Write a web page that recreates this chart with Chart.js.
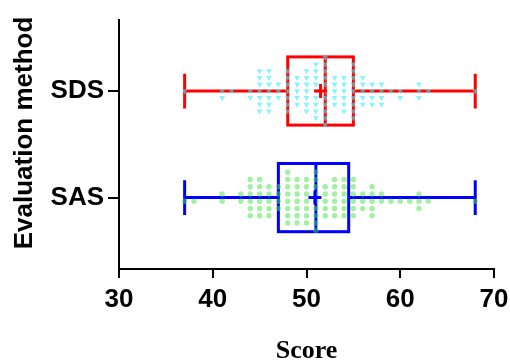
<!DOCTYPE html>
<html>
<head>
<meta charset="utf-8">
<script src="https://cdn.jsdelivr.net/npm/chart.js@4/dist/chart.umd.min.js"></script>
<style>
html, body { margin: 0; padding: 0; background: #fff; }
#wrap { width: 510px; height: 360px; }
</style>
</head>
<body>
<div id="wrap"><canvas id="chart"></canvas></div>
<script>
// categories on the y axis, bottom to top
const categories = ["SAS", "SDS"];
const xTicks = [30, 40, 50, 60, 70];

// SDS: scores and number of subjects with that score (down triangles)
const sdsScores = [37, 41, 42, 44, 45, 46, 47, 48, 49, 50, 51, 52, 53, 54, 55, 56, 57, 58, 59, 60, 62, 63, 68];
const sdsCounts = [1, 2, 1, 2, 7, 7, 3, 7, 5, 7, 9, 11, 5, 6, 9, 5, 4, 4, 1, 2, 3, 1, 1];

// SAS: scores and counts (circles)
const sasScores = [37, 38, 41, 43, 44, 45, 46, 47, 48, 49, 50, 51, 52, 53, 54, 55, 56, 57, 58, 59, 60, 61, 62, 63, 68];
const sasCounts = [1, 1, 2, 2, 6, 6, 5, 4, 8, 7, 7, 9, 5, 6, 6, 6, 3, 5, 2, 1, 1, 1, 3, 1, 1];

// box summaries: min, Q1, median, Q3, max
const sasBox = [37, 47, 51, 54.5, 68];
const sdsBox = [37, 48, 52, 55, 68];
const boxMeans = [50.9, 51.5];

// spread points with the same score into rows (simple beeswarm)
function swarm(scores, counts, yPos, step, half) {
    const pts = [];
    scores.forEach((s, i) => {
        for (let k = 0; k < counts[i]; k++) {
            let row;
            if (half) row = (k % 2 === 0 ? 1 : -1) * (Math.floor(k / 2) + 0.5);
            else row = k === 0 ? 0 : (k % 2 === 1 ? 1 : -1) * Math.ceil(k / 2);
            pts.push({ x: s, y: yPos - row * step });
        }
    });
    return pts;
}

const boxes = [
    { y: 1, stats: sasBox, mean: boxMeans[0], color: "#0000ff" },
    { y: 2, stats: sdsBox, mean: boxMeans[1], color: "#ff0000" }
];

const boxPlugin = {
    id: "boxes",
    beforeDatasetsDraw(chart) {
        const { ctx, scales: { x, y } } = chart;
        boxes.forEach(b => {
            const [mn, q1, med, q3, mx] = b.stats.map(v => x.getPixelForValue(v));
            const yc = y.getPixelForValue(b.y);
            const yTop = y.getPixelForValue(b.y + 0.32);
            const yBot = y.getPixelForValue(b.y - 0.32);
            const cTop = y.getPixelForValue(b.y + 0.163);
            const cBot = y.getPixelForValue(b.y - 0.163);
            ctx.save();
            ctx.strokeStyle = b.color;
            ctx.lineWidth = 3;
            ctx.beginPath();
            // whiskers
            ctx.moveTo(mn, yc); ctx.lineTo(q1, yc);
            ctx.moveTo(q3, yc); ctx.lineTo(mx, yc);
            // caps
            ctx.moveTo(mn, cTop); ctx.lineTo(mn, cBot);
            ctx.moveTo(mx, cTop); ctx.lineTo(mx, cBot);
            // median
            ctx.moveTo(med, yTop); ctx.lineTo(med, yBot);
            ctx.stroke();
            ctx.strokeRect(q1, yTop, q3 - q1, yBot - yTop);
            ctx.restore();
        });
    },
    afterDatasetsDraw(chart) {
        const { ctx, scales: { x, y } } = chart;
        boxes.forEach(b => {
            const mx = x.getPixelForValue(b.mean);
            const my = y.getPixelForValue(b.y);
            ctx.save();
            ctx.strokeStyle = b.color;
            ctx.lineWidth = 3;
            ctx.beginPath();
            ctx.moveTo(mx - 6.5, my); ctx.lineTo(mx + 6.5, my);
            ctx.moveTo(mx, my - 7); ctx.lineTo(mx, my + 7);
            ctx.stroke();
            ctx.restore();
        });
    },
    afterDraw(chart) {
        // y axis title
        const ctx = chart.ctx;
        ctx.save();
        ctx.translate(25, 133);
        ctx.rotate(-Math.PI / 2);
        ctx.font = "bold 26px 'Liberation Sans'";
        ctx.fillStyle = "#000";
        ctx.textAlign = "center";
        ctx.textBaseline = "middle";
        ctx.fillText("Evaluation method", 0, 0);
        ctx.restore();
    }
};

const tickFont = { family: "Liberation Sans", size: 26, weight: "bold" };

new Chart(document.getElementById("chart"), {
    type: "scatter",
    data: {
        datasets: [
            {
                label: "SAS",
                data: swarm(sasScores, sasCounts, 1, 0.068, true),
                pointStyle: "circle",
                pointRadius: 2.7,
                pointBorderWidth: 0,
                backgroundColor: "rgba(70, 225, 70, 0.5)",
                borderColor: "rgba(0,0,0,0)"
            },
            {
                label: "SDS",
                data: swarm(sdsScores, sdsCounts, 2, 0.063, false),
                pointStyle: "triangle",
                rotation: 180,
                pointRadius: 3.4,
                pointBorderWidth: 0,
                backgroundColor: "rgba(60, 235, 250, 0.6)",
                borderColor: "rgba(0,0,0,0)"
            }
        ]
    },
    options: {
        responsive: true,
        maintainAspectRatio: false,
        animation: false,
        layout: { padding: { top: 18, right: 16, left: 0, bottom: 0 } },
        plugins: { legend: { display: false }, tooltip: { enabled: false } },
        scales: {
            x: {
                type: "linear",
                min: 30,
                max: 70,
                afterBuildTicks: s => { s.ticks = xTicks.map(v => ({ value: v })); },
                afterFit: s => { s.height = 91; s.paddingRight = 0; s.paddingLeft = 0; },
                grid: { drawOnChartArea: false, drawTicks: true, tickLength: 9, color: "#000", lineWidth: 2 },
                border: { display: true, color: "#000", width: 2 },
                ticks: { color: "#000", font: tickFont, padding: 6, maxRotation: 0 },
                title: {
                    display: true,
                    text: "Score",
                    color: "#000",
                    font: { family: "Liberation Serif", size: 26, weight: "bold", lineHeight: 0.8 },
                    padding: { top: 0, bottom: -2 }
                }
            },
            y: {
                type: "linear",
                min: 0.33,
                max: 2.67,
                afterBuildTicks: s => { s.ticks = categories.map((c, i) => ({ value: i + 1 })); },
                afterFit: s => { s.width = 119; },
                grid: { drawOnChartArea: false, drawTicks: true, tickLength: 11, color: "#000", lineWidth: 2 },
                border: { display: true, color: "#000", width: 2 },
                ticks: {
                    color: "#000",
                    font: tickFont,
                    padding: 4,
                    callback: v => categories[Math.round(v) - 1]
                }
            }
        }
    },
    plugins: [boxPlugin]
});
</script>
</body>
</html>
